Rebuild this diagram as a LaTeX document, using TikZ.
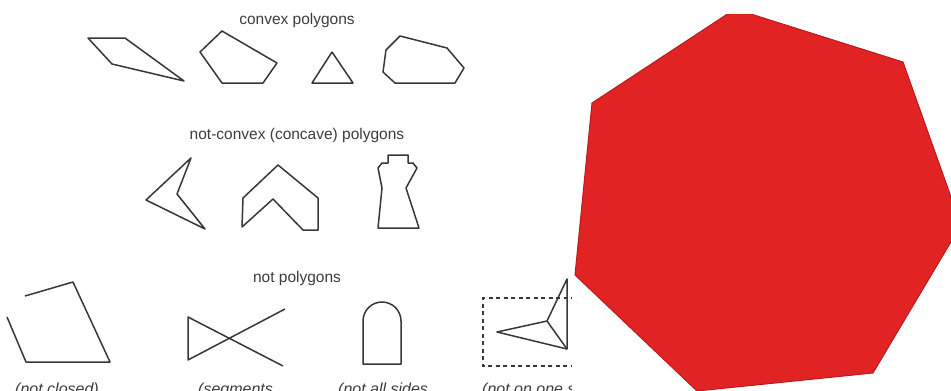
\documentclass[tikz,border=0pt]{standalone}
\usepackage{fontspec}
\setmainfont{Liberation Sans}
\definecolor{inkgray}{RGB}{55,55,55}
\definecolor{textgray}{RGB}{60,60,60}
\definecolor{hepred}{RGB}{226,35,36}
\definecolor{hepedge}{RGB}{185,28,32}
\tikzset{
	outline/.style={draw=inkgray, line width=1.5pt, line join=round},
	title/.style={text=textgray, font=\fontsize{15.5}{18}\selectfont},
	remark/.style={text=textgray, font=\fontsize{16}{19}\selectfont\itshape, anchor=base west, inner sep=0pt}
}
\begin{document}
\begin{tikzpicture}[x=1pt, y=-1pt]
	\useasboundingbox (0,0) rectangle (951,391);
	\clip (0,0) rectangle (951,391);
	% convex
	\node [title] (convex) at (297,20) {convex polygons};
	\draw [outline] (88,38) -- (125,38) -- (184,81) -- (112,64) -- cycle;
	\draw [outline] (222,31) -- (277,63) -- (263,83) -- (222,83) -- (200,52) -- cycle;
	\draw [outline] (332,52) -- (353,83) -- (312,83) -- cycle;
	\draw [outline] (400,36) -- (447,48) -- (464,68) -- (455,83) -- (395,83) -- (383,72) -- (386,50) -- cycle;
	% concave
	\node [title] (concave) at (297,135) {not-convex (concave) polygons};
	\draw [outline] (191,158) -- (177,194) -- (205,229) -- (146,200) -- cycle;
	\draw [outline] (278,165) -- (318,198) -- (318,230) -- (303,230) -- (273,199) -- (242,227) -- (243,198) -- cycle;
	\draw [outline] (388,155) -- (408,155) -- (408,163) -- (413,163) -- (417,168) -- (406,188) -- (419,228)
		-- (378,228) -- (382,188) -- (378,168) -- (382,163) -- (388,163) -- cycle;
	% not polygons
	\node [title] (notpoly) at (297,278) {not polygons};
	\draw [outline] (25,296) -- (73,282) -- (110,362) -- (26,362) -- (7,317);
	\node [remark] (notclosed) at (15,394) {(not closed)};
	\draw [outline] (285,309) -- (188,360) -- (188,317) -- (283,366);
	\node [remark] (segments) at (198,394) {(segments};
	\draw [outline] (363,364) -- (363,321) arc [start angle=180, end angle=360, radius=19] -- (401,364) -- cycle;
	\node [remark] (allsides) at (338,394) {(not all sides};
	\draw [draw=inkgray, line width=1.2pt, dash pattern=on 4pt off 3.5pt] (575,298) -- (483,298) -- (483,366) -- (575,366);
	\draw [outline] (497,332) -- (547,321) -- (567,279) -- (567,349) -- cycle;
	\draw [outline] (547,321) -- (567,349);
	\node [remark] (oneside) at (482,394) {(not on one side};
	%\draw (0,0) rectangle (951,391);
	\fill [white] (572,0) rectangle (951,391);
	\begin{scope}
		\clip (572,14) rectangle (951,391);
		\draw [fill=hepred, draw=hepedge, line width=1pt, line join=round]
			(735,9) -- (903,62) -- (961,225) -- (873,373) -- (697,391) -- (575,275) -- (592,103) -- cycle;
	\end{scope}
\end{tikzpicture}
\end{document}
